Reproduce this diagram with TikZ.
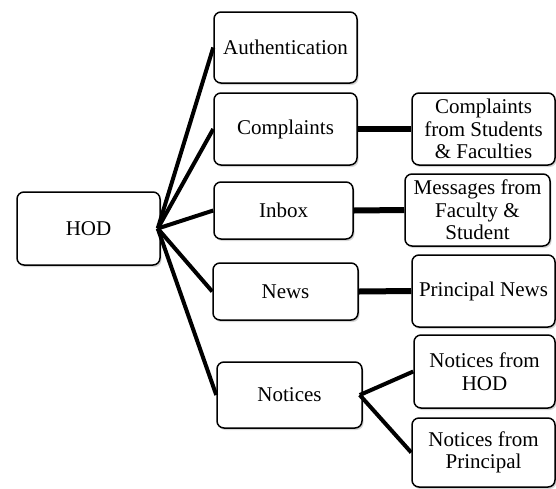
\documentclass[tikz,border=0pt]{standalone}
\usepackage{fontspec}
\setmainfont{Liberation Serif}
\usetikzlibrary{shadows}
\tikzset{
  box/.style={draw=black, line width=1.5pt, rounded corners=7pt, fill=white,
    inner sep=0pt, align=center, font=\fontsize{21}{22.5}\selectfont,
    drop shadow={shadow xshift=1.5pt, shadow yshift=-2pt, fill=black!35, opacity=0.45}},
  link/.style={line width=4pt, black},
  hlink/.style={line width=6pt, black}
}
\begin{document}
\begin{tikzpicture}[x=1pt,y=-1pt]
\useasboundingbox (0,0) rectangle (556,488);
\node[box, minimum width=143pt, minimum height=73pt] (hod) at (88.5,228.5) {HOD};
\node[box, minimum width=143pt, minimum height=71pt] (auth) at (285.5,47.5) {Authentication};
\node[box, minimum width=143pt, minimum height=72pt] (comp) at (285.5,129) {Complaints};
\node[box, minimum width=139pt, minimum height=57pt] (inbox) at (283.5,210.5) {Inbox};
\node[box, minimum width=145pt, minimum height=57pt] (news) at (285.5,291.5) {News};
\node[box, minimum width=145pt, minimum height=66pt] (notices) at (289.5,395) {Notices};
\node[box, minimum width=143pt, minimum height=72pt] (cfs) at (483.5,129) {Complaints\\from Students\\\& Faculties};
\node[box, minimum width=145pt, minimum height=72pt] (msg) at (477.5,210) {Messages from\\Faculty \&\\Student};
\node[box, minimum width=143pt, minimum height=72pt] (pn) at (483.5,291) {Principal News};
\node[box, minimum width=141pt, minimum height=73pt] (nfh) at (484.5,371.5) {Notices from\\HOD};
\node[box, minimum width=143pt, minimum height=69pt] (nfp) at (483.5,452.5) {Notices from\\Principal};
\coordinate (hodo) at ([xshift=-3pt]hod.east);
\coordinate (noto) at ([xshift=-3pt]notices.east);
\foreach \t in {auth,comp,inbox,news,notices}
  \draw[link] (hodo) -- (\t.west);
\draw[hlink] (comp.east) -- (cfs.west);
\draw[hlink] (inbox.east) -- (msg.west);
\draw[hlink] (news.east) -- (pn.west);
\draw[link] (noto) -- (nfh.west);
\draw[link] (noto) -- (nfp.west);
\end{tikzpicture}
\end{document}
